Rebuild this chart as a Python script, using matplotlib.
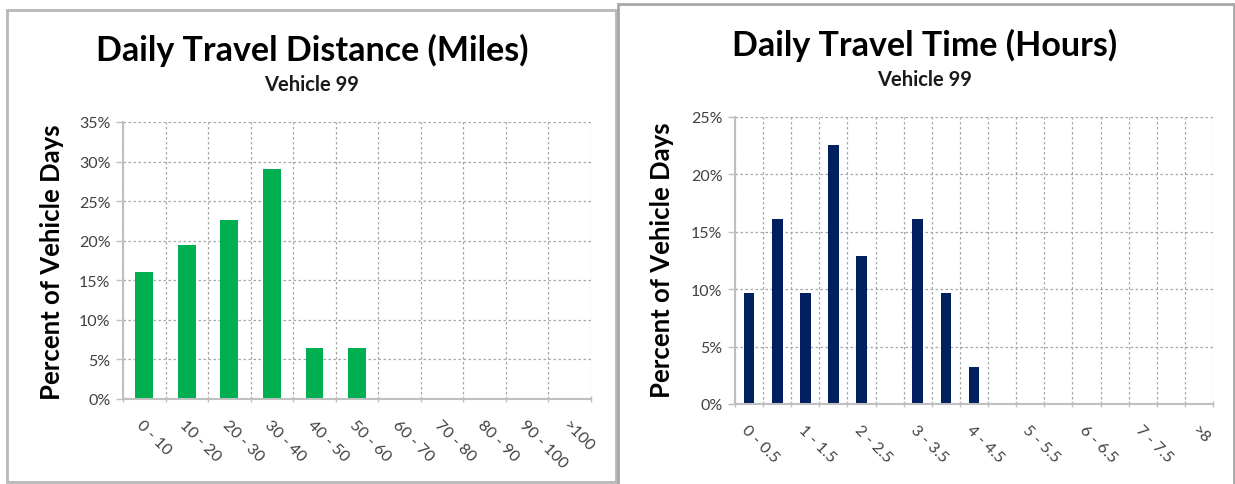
import matplotlib
matplotlib.use("Agg")
import matplotlib.pyplot as plt
from matplotlib.patches import Rectangle
from matplotlib.ticker import FuncFormatter, FixedLocator

plt.rcParams['font.family'] = ['Lato', 'DejaVu Sans']

# ---- data ----
dist_categories = ["0 - 10", "10 - 20", "20 - 30", "30 - 40", "40 - 50", "50 - 60",
                   "60 - 70", "70 - 80", "80 - 90", "90 - 100", ">100"]
dist_values = [16.1, 19.4, 22.6, 29.0, 6.5, 6.5, 0, 0, 0, 0, 0]

time_categories = ["0 - 0.5", "0.5 - 1", "1 - 1.5", "1.5 - 2", "2 - 2.5", "2.5 - 3",
                   "3 - 3.5", "3.5 - 4", "4 - 4.5", "4.5 - 5", "5 - 5.5", "5.5 - 6",
                   "6 - 6.5", "6.5 - 7", "7 - 7.5", "7.5 - 8", ">8"]
time_values = [9.7, 16.1, 9.7, 22.6, 12.9, 0, 16.1, 9.7, 3.2, 0, 0, 0, 0, 0, 0, 0, 0]

dist_title = "Daily Travel Distance (Miles)"
time_title = "Daily Travel Time (Hours)"
subtitle = "Vehicle 99"
ylabel = "Percent of Vehicle Days"

W, H = 1235, 485
fig = plt.figure(figsize=(W / 100, H / 100), dpi=100)
fig.patch.set_facecolor("white")


def px_axes(x0, y0, x1, y1):
    # pixel coords (top-left origin) -> figure fraction
    return fig.add_axes([x0 / W, 1 - y1 / H, (x1 - x0) / W, (y1 - y0) / H])


def fx(x):
    return x / W


def fy(y):
    return 1 - y / H


# panel borders
fig.patches.append(Rectangle((fx(7), fy(483)), fx(616) - fx(7), fy(11) - fy(483),
                             transform=fig.transFigure, fill=False,
                             edgecolor="#b8b8b8", linewidth=2.0))
fig.patches.append(Rectangle((fx(618), fy(486)), fx(1234) - fx(618), fy(5) - fy(486),
                             transform=fig.transFigure, fill=False,
                             edgecolor="#a8a8a8", linewidth=2.0))

GRID = "#a6a6a6"
AXC = "#bfbfbf"
TXT = "#404040"


def style(ax, cats, vals, color, ymax, ystep, label_every, width):
    n = len(cats)
    x = list(range(n))
    ax.bar(x, vals, width=width, color=color, zorder=3)
    ax.set_xlim(-0.5, n - 0.5)
    ax.set_ylim(0, ymax)
    yt = [i * ystep for i in range(int(round(ymax / ystep)) + 1)]
    ax.set_yticks(yt)
    ax.yaxis.set_major_formatter(FuncFormatter(lambda v, p: f"{v:.0f}%"))
    ax.set_xticks([i for i in x if i % label_every == 0])
    ax.set_xticklabels([c for i, c in enumerate(cats) if i % label_every == 0],
                       rotation=-45, ha="left", va="top", rotation_mode="anchor")
    ax.xaxis.set_minor_locator(FixedLocator([i - 0.5 for i in range(n + 1)]))
    ax.tick_params(axis="x", which="major", length=0, pad=13, labelsize=11.5, labelcolor=TXT)
    ax.tick_params(axis="x", which="minor", length=5, direction="inout", color=AXC, width=1)
    ax.tick_params(axis="y", which="major", length=5, direction="out", color=AXC, width=1,
                   labelsize=11.5, labelcolor=TXT, pad=4)
    ax.grid(True, axis="y", which="major", linestyle=(0, (2, 2)), color=GRID, linewidth=0.9, zorder=0)
    ax.grid(True, axis="x", which="minor", linestyle=(0, (2, 2)), color=GRID, linewidth=0.9, zorder=0)
    ax.grid(False, axis="x", which="major")
    for s in ["top", "right"]:
        ax.spines[s].set_visible(False)
    for s in ["left", "bottom"]:
        ax.spines[s].set_color(AXC)
        ax.spines[s].set_linewidth(1.5)
        ax.spines[s].set_zorder(4)


ax1 = px_axes(123, 123, 591, 400)
style(ax1, dist_categories, dist_values, "#00b050", 35, 5, 1, 0.42)
ax2 = px_axes(735, 118, 1213, 405)
style(ax2, time_categories, time_values, "#002060", 25, 5, 2, 0.38)

# titles
fig.text(fx(312), fy(50), dist_title, ha="center", va="center", fontsize=24.5, fontweight="bold", color="#000000")
fig.text(fx(312), fy(85), subtitle, ha="center", va="center", fontsize=14.5, fontweight="bold", color="#1a1a1a")
fig.text(fx(925), fy(45), time_title, ha="center", va="center", fontsize=24.5, fontweight="bold", color="#000000")
fig.text(fx(925), fy(80), subtitle, ha="center", va="center", fontsize=14.5, fontweight="bold", color="#1a1a1a")

fig.text(fx(52), fy(262), ylabel, ha="center", va="center", rotation=90, fontsize=18.5, fontweight="bold", color="#000000")
fig.text(fx(662), fy(260), ylabel, ha="center", va="center", rotation=90, fontsize=18.5, fontweight="bold", color="#000000")

fig.savefig("out.png", dpi=100, facecolor="white")
